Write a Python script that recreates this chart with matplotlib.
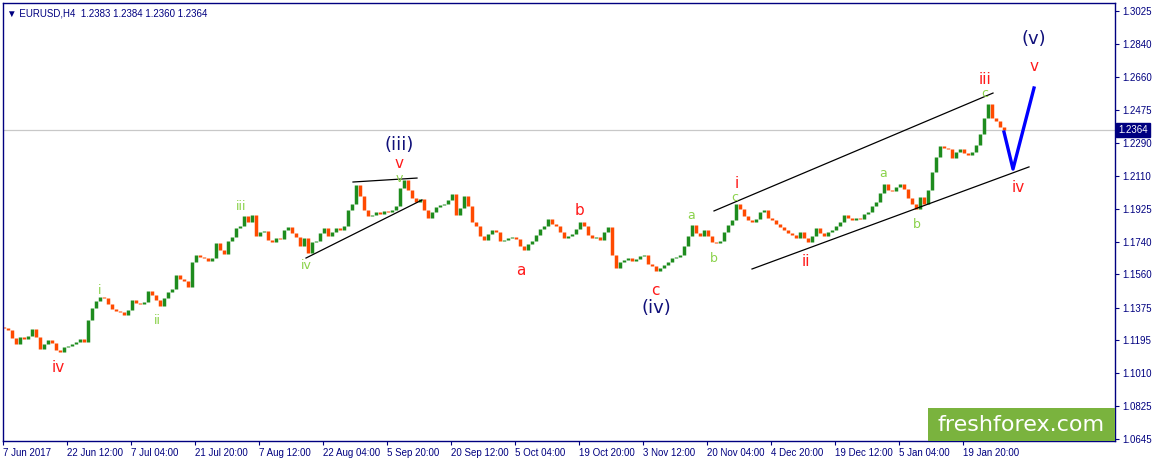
import numpy as np
import matplotlib.pyplot as plt
import matplotlib.transforms as mtransforms
from matplotlib.patches import Rectangle

plt.rcParams['font.family'] = ['Liberation Sans', 'DejaVu Sans']

symbol_text = "EURUSD,H4  1.2383 1.2384 1.2360 1.2364"
last_price = 1.2364

# closing prices, one drawn candle for every ~4 H4 bars (7 Jun 2017 - 24 Jan 2018)
first_open = 1.1268
closes = [
    1.1262, 1.1251, 1.1206, 1.1173, 1.1212, 1.1201, 1.1217, 1.1256, 1.1212, 1.1145,
    1.1173, 1.1195, 1.1178, 1.1140, 1.1128, 1.1156, 1.1162, 1.1173, 1.1184, 1.1201,
    1.1184, 1.1306, 1.1373, 1.1412, 1.1434, 1.1429, 1.1395, 1.1368, 1.1356, 1.1351,
    1.1334, 1.1362, 1.1418, 1.1401, 1.1395, 1.1406, 1.1468, 1.1445, 1.1418, 1.1384,
    1.1429, 1.1462, 1.1479, 1.1557, 1.1534, 1.1523, 1.1490, 1.1629, 1.1668, 1.1657,
    1.1651, 1.1634, 1.1651, 1.1735, 1.1696, 1.1673, 1.1746, 1.1768, 1.1818, 1.1829,
    1.1885, 1.1851, 1.1890, 1.1774, 1.1796, 1.1801, 1.1751, 1.1740, 1.1762, 1.1757,
    1.1807, 1.1824, 1.1790, 1.1768, 1.1718, 1.1762, 1.1679, 1.1740, 1.1746, 1.1790,
    1.1818, 1.1774, 1.1796, 1.1818, 1.1807, 1.1829, 1.1918, 1.1952, 1.2057, 1.1996,
    1.1918, 1.1885, 1.1890, 1.1907, 1.1896, 1.1913, 1.1907, 1.1918, 1.1940, 1.2040,
    1.2085, 1.2029, 1.1985, 1.1963, 1.1979, 1.1918, 1.1874, 1.1907, 1.1935, 1.1946,
    1.1952, 1.1974, 1.2007, 1.1890, 1.1929, 1.1996, 1.1940, 1.1851, 1.1829, 1.1774,
    1.1751, 1.1785, 1.1807, 1.1796, 1.1746, 1.1751, 1.1762, 1.1768, 1.1757, 1.1718,
    1.1696, 1.1729, 1.1746, 1.1779, 1.1813, 1.1829, 1.1868, 1.1840, 1.1829, 1.1796,
    1.1762, 1.1774, 1.1785, 1.1813, 1.1851, 1.1829, 1.1779, 1.1762, 1.1768, 1.1751,
    1.1796, 1.1824, 1.1668, 1.1596, 1.1629, 1.1640, 1.1651, 1.1634, 1.1646, 1.1662,
    1.1668, 1.1618, 1.1607, 1.1579, 1.1596, 1.1612, 1.1629, 1.1651, 1.1657, 1.1668,
    1.1718, 1.1774, 1.1835, 1.1790, 1.1774, 1.1807, 1.1774, 1.1740, 1.1735, 1.1746,
    1.1796, 1.1835, 1.1863, 1.1952, 1.1924, 1.1885, 1.1863, 1.1851, 1.1868, 1.1907,
    1.1918, 1.1874, 1.1863, 1.1840, 1.1824, 1.1807, 1.1790, 1.1779, 1.1762, 1.1796,
    1.1762, 1.1740, 1.1774, 1.1818, 1.1790, 1.1774, 1.1796, 1.1807, 1.1829, 1.1851,
    1.1890, 1.1874, 1.1863, 1.1874, 1.1868, 1.1896, 1.1907, 1.1940, 1.1963, 1.2013,
    1.2063, 1.2029, 1.2024, 1.2046, 1.2063, 1.2035, 1.1985, 1.1952, 1.1924, 1.1990,
    1.1952, 1.2029, 1.2130, 1.2213, 1.2274, 1.2263, 1.2257, 1.2207, 1.2241, 1.2257,
    1.2235, 1.2224, 1.2241, 1.2280, 1.2341, 1.2430, 1.2508, 1.2430, 1.2413, 1.2380,
    1.2364,
]

date_labels = ["7 Jun 2017", "22 Jun 12:00", "7 Jul 04:00", "21 Jul 20:00", "7 Aug 12:00",
               "22 Aug 04:00", "5 Sep 20:00", "20 Sep 12:00", "5 Oct 04:00", "19 Oct 20:00",
               "3 Nov 12:00", "20 Nov 04:00", "4 Dec 20:00", "19 Dec 12:00", "5 Jan 04:00",
               "19 Jan 20:00"]
price_ticks = [1.3025, 1.2840, 1.2660, 1.2475, 1.2290, 1.2110, 1.1925, 1.1740,
               1.1560, 1.1375, 1.1195, 1.1010, 1.0825, 1.0645]

# wave counts (bar position, price)
minor_text = ["i", "ii", "iii", "iv", "v", "c", "a", "b", "c", "a", "b"]
minor_bar = [97, 154, 238, 303, 396, 732, 688, 711, 982, 880, 914]
minor_price = [1.1473, 1.1306, 1.1935, 1.1607, 1.2093, 1.1990, 1.1890, 1.1646,
               1.2568, 1.2124, 1.1835]
red_text = ["iv", "v", "a", "b", "c", "i", "ii", "iii", "iv", "v"]
red_bar = [55, 396, 518, 576, 652, 734, 803, 982, 1015, 1031]
red_price = [1.1040, 1.2176, 1.1579, 1.1918, 1.1473, 1.2063, 1.1629, 1.2642, 1.2046, 1.2719]
major_text = ["(iii)", "(iv)", "(v)"]
major_bar = [396, 653, 1031]
major_price = [1.2282, 1.1373, 1.2868]

# trend lines and the projected path
triangle_top = ([350, 414], [1.2074, 1.2096])
triangle_bottom = ([303, 419], [1.1651, 1.1974])
channel_top = ([711, 990], [1.1913, 1.2569])
channel_bottom = ([749, 1026], [1.1590, 1.2158])
projection_bar = [1001, 1010, 1031]
projection_price = [1.2352, 1.2146, 1.2597]

navy = '#000080'
up_color = '#1e8c1e'
down_color = '#ff4a00'
light_green = '#8ad24a'
wave_red = '#ff1a1a'

fig = plt.figure(figsize=(11.55, 4.63), dpi=100)
ax = fig.add_axes([3 / 1155, 22 / 463, 1112 / 1155, 438 / 463])

step = 4
xs = np.arange(len(closes)) * step + 1
opens = np.array([first_open] + closes[:-1])
cl = np.array(closes)
colors = [up_color if c > o else (down_color if c < o else 'black') for o, c in zip(opens, cl)]
ax.vlines(xs, opens, cl, colors=colors, linewidth=2.5)

ax.axhline(last_price, color='#c8c8c8', linewidth=0.9, zorder=0)

for line in [triangle_top, triangle_bottom, channel_top, channel_bottom]:
    ax.plot(line[0], line[1], color='black', linewidth=0.9)
ax.plot(projection_bar, projection_price, color='#0000ff', linewidth=2.4)

for t, b, p in zip(minor_text, minor_bar, minor_price):
    ax.text(b, p, t, color=light_green, fontsize=9, ha='center', va='center',
            family='DejaVu Sans')
for t, b, p in zip(red_text, red_bar, red_price):
    ax.text(b, p, t, color=wave_red, fontsize=11, ha='center', va='center',
            family='DejaVu Sans')
for t, b, p in zip(major_text, major_bar, major_price):
    ax.text(b, p, t, color='#10107a', fontsize=13, ha='center', va='center',
            family='DejaVu Sans')

ax.set_xlim(0, 1112)
ax.set_ylim(1.0633, 1.3070)

ax.set_xticks(np.arange(len(date_labels)) * 64)
ax.set_xticklabels(date_labels, ha='left')
ax.yaxis.tick_right()
ax.set_yticks(price_ticks)
ax.set_yticklabels(["%.4f" % p for p in price_ticks])
ax.tick_params(colors=navy, labelsize=7, length=3, width=0.8, pad=2)
for s in ax.spines.values():
    s.set_color(navy)
    s.set_linewidth(1)

ax.text(0.004, 0.988, "\u25bc " + symbol_text, transform=ax.transAxes, va='top', ha='left',
        fontsize=7, color=navy)

trans = mtransforms.blended_transform_factory(ax.transAxes, ax.transData)
ax.text(1.003, last_price, "%.4f" % last_price, transform=trans, va='center', ha='left',
        color='white', fontsize=7, clip_on=False,
        bbox=dict(boxstyle='square,pad=0.2', fc=navy, ec=navy))

ax.add_patch(Rectangle((925 / 1112, 0), 187 / 1112, 33 / 438, transform=ax.transAxes,
                       facecolor='#7ab33e', edgecolor='none', zorder=5))
ax.text(1018 / 1112, 16 / 438, "freshforex.com", transform=ax.transAxes, ha='center',
        va='center', color='white', fontsize=16, family='DejaVu Sans', zorder=6)

fig.savefig('out.png', dpi=100)
